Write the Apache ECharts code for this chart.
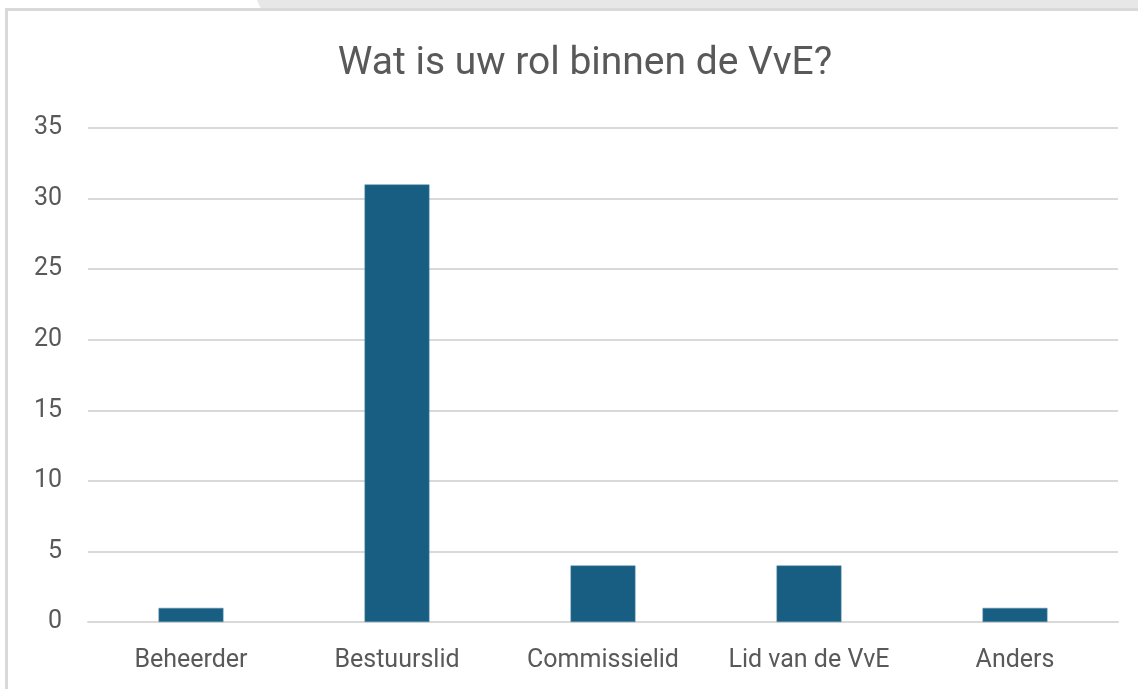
<!DOCTYPE html>
<html><head><meta charset="utf-8">
<script src="https://cdn.jsdelivr.net/npm/echarts@6/dist/echarts.min.js"></script>
<style>html,body{margin:0;padding:0;background:#fff;}#c{width:1138px;height:689px;}</style>
</head><body><div id="c"></div>
<script>
const categories = ['Beheerder', 'Bestuurslid', 'Commissielid', 'Lid van de VvE', 'Anders'];
const values = [1, 31, 4, 4, 1];
const yTicks = [0, 5, 10, 15, 20, 25, 30, 35];

const chart = echarts.init(document.getElementById('c'));
chart.setOption({
  animation: false,
  title: {
    text: 'Wat is uw rol binnen de VvE?',
    left: 580, top: 40, textAlign: 'center',
    textStyle: { fontFamily: 'Roboto', fontSize: 39, fontWeight: 'normal', color: '#595959' }
  },
  graphic: [
    { type: 'polygon', shape: { points: [[257,0],[1138,0],[1138,9],[261,9]] }, style: { fill: '#e7e7e7' }, silent: true },
    { type: 'rect', shape: { x: 5, y: 8, width: 1133, height: 3 }, style: { fill: '#d9d9d9' }, silent: true },
    { type: 'rect', shape: { x: 5, y: 8, width: 3, height: 681 }, style: { fill: '#d9d9d9' }, silent: true }
  ],
  grid: { left: 88, right: 20, top: 128, bottom: 67, containLabel: false },
  xAxis: {
    type: 'category', data: categories,
    axisLine: { lineStyle: { color: '#d9d9d9', width: 2 } },
    axisTick: { show: false },
    axisLabel: { color: '#595959', fontFamily: 'Roboto', fontSize: 25, margin: 26, interval: 0, hideOverlap: false }
  },
  yAxis: {
    type: 'value', min: 0, max: 35, interval: 5,
    axisLine: { show: false }, axisTick: { show: false },
    splitLine: { lineStyle: { color: '#d9d9d9', width: 2 } },
    axisLabel: { color: '#595959', fontFamily: 'Roboto', fontSize: 25, margin: 26,
      formatter: v => yTicks.includes(v) ? String(v) : '' }
  },
  series: [{
    type: 'bar', data: values, barWidth: '31.5%',
    itemStyle: { color: '#175e82', borderColor: '#5a8fab', borderWidth: 0.5 }
  }]
});
</script></body></html>
